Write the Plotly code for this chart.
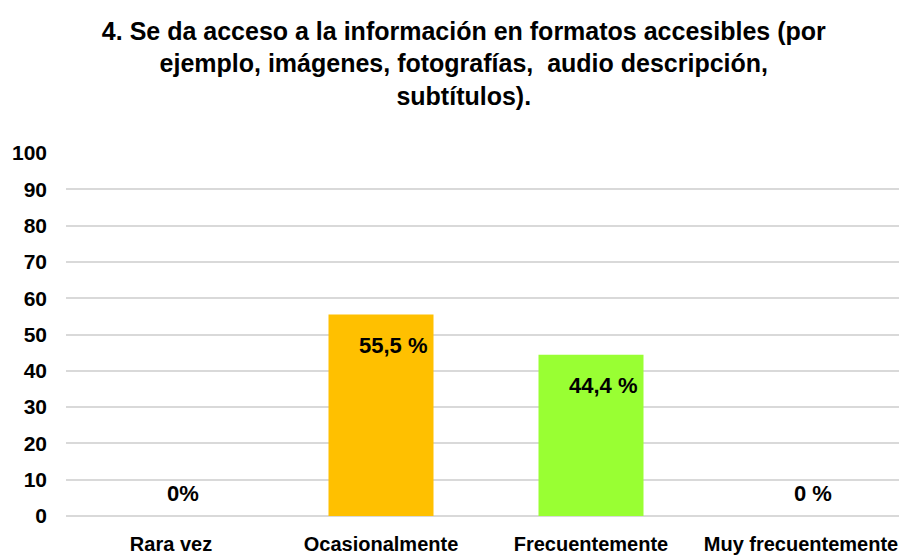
import plotly.graph_objects as go

# data
categories = ['Rara vez', 'Ocasionalmente', 'Frecuentemente', 'Muy frecuentemente']
values = [0, 55.5, 44.4, 0]
labels = ['0%', '55,5 %', '44,4 %', '0 %']
colors = ['#FFC000', '#FFC000', '#99FF33', '#99FF33']
y_ticks = [0, 10, 20, 30, 40, 50, 60, 70, 80, 90, 100]

title = ('4. Se da acceso a la información en formatos accesibles (por<br>'
         'ejemplo, imágenes, fotografías,  audio descripción,<br>'
         'subtítulos).')

font_family = 'Liberation Sans, Arial, sans-serif'

fig = go.Figure()
fig.add_trace(go.Bar(x=categories, y=values, marker_color=colors,
                     marker_line_width=0, width=0.5, showlegend=False))

# data labels
for cat, val, lab in zip(categories, values, labels):
    if val > 0:
        ys = -31
    else:
        ys = 23
    fig.add_annotation(x=cat, y=val, text='<b>' + lab + '</b>', showarrow=False,
                       xshift=12, yshift=ys,
                       font=dict(family=font_family, size=22, color='black'))

# page has 8px body margin, so figure is a bit smaller than the window
fig.update_layout(
    width=899, height=551,
    margin=dict(l=58, r=1, t=145, b=43),
    paper_bgcolor='white', plot_bgcolor='white',
    font=dict(family=font_family, color='black'),
    title=dict(text='<b>' + title + '</b>', x=0.507, xanchor='center',
               y=0.942, yanchor='top',
               font=dict(family=font_family, size=25, color='black')),
    bargap=0.5,
)
fig.update_yaxes(range=[0, 100], tickvals=y_ticks, automargin=False,
                 ticktext=['<b>%d</b>' % t for t in y_ticks],
                 showgrid=True, gridcolor='#d9d9d9', gridwidth=2,
                 zeroline=True, zerolinecolor='#d9d9d9', zerolinewidth=2,
                 showline=False, ticks='', ticklabelstandoff=18,
                 tickfont=dict(family=font_family, size=21, color='black'))
fig.update_xaxes(showgrid=False, showline=False, ticks='', automargin=False,
                 ticktext=['<b>' + c + '</b>' for c in categories],
                 tickvals=categories, ticklabelstandoff=14,
                 tickfont=dict(family=font_family, size=20, color='black'))

fig.write_html('out.html')
